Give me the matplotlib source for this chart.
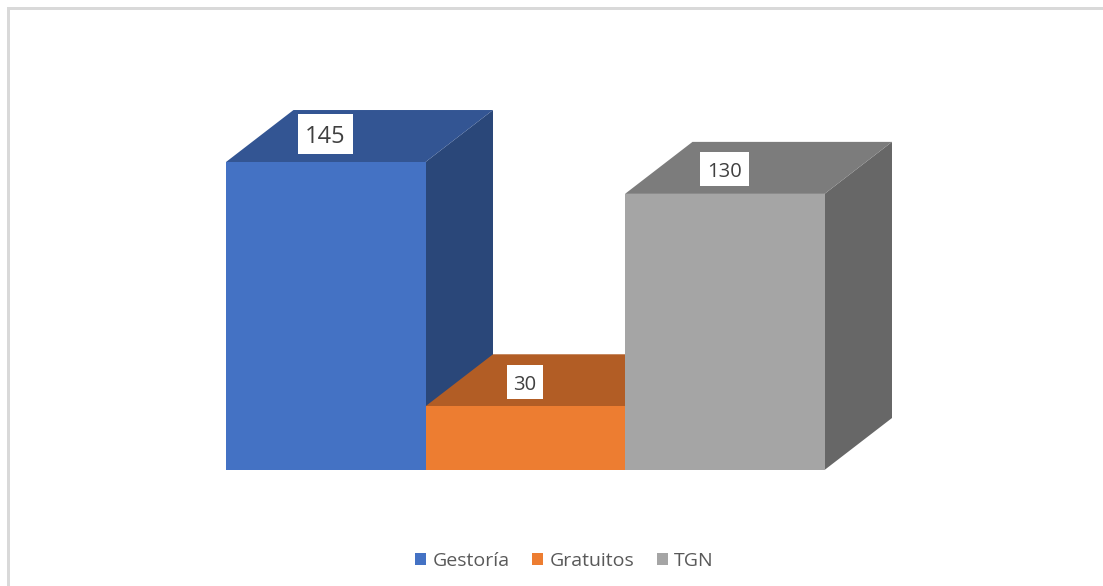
import matplotlib
matplotlib.use("Agg")
import matplotlib.pyplot as plt
from matplotlib.patches import Polygon, Patch, Rectangle

categories = ["Gestoría", "Gratuitos", "TGN"]
values = [145, 30, 130]
front_colors = ["#4472C4", "#ED7D31", "#A5A5A5"]
top_colors = ["#335593", "#B25D25", "#7C7C7C"]
side_colors = ["#2A4779", "#8F4A1E", "#676767"]
label_sizes = [17.0, 14.5, 14.5]
label_lift = [13.0, 11.4, 11.7]
box_half_w = [27.5, 18.0, 24.5]
box_half_h = [20.0, 17.0, 17.0]

W, H = 1103, 586
PX_X, X0 = 199.5, 226.0
PX_Y, Y0 = 2.124, 470.0
DX, DY = 67.5 / PX_X, 52 / PX_Y

plt.rcParams["font.family"] = ["Open Sans", "DejaVu Sans"]
fig = plt.figure(figsize=(W / 100, H / 100), dpi=100, facecolor="white")
ax = fig.add_axes([0, 0, 1, 1])
ax.set_xlim(-X0 / PX_X, (W - X0) / PX_X)
ax.set_ylim((Y0 - H) / PX_Y, Y0 / PX_Y)
ax.axis("off")

# Chart frame (top and left edges)
fig.add_artist(Rectangle((0.0065, 1 - 9.5 / H), 1, 2.5 / H, transform=fig.transFigure, color="#D9D9D9", lw=0))
fig.add_artist(Rectangle((7 / W, 0), 2.5 / W, 1 - 7 / H, transform=fig.transFigure, color="#D9D9D9", lw=0))

for i, v in enumerate(values):
    ax.add_patch(Polygon([(i + 1, 0), (i + 1 + DX, DY), (i + 1 + DX, v + DY), (i + 1, v)],
                         closed=True, facecolor=side_colors[i], edgecolor="none", zorder=2 + i))
    ax.add_patch(Polygon([(i, v), (i + DX, v + DY), (i + 1 + DX, v + DY), (i + 1, v)],
                         closed=True, facecolor=top_colors[i], edgecolor="none", zorder=2 + i))
    ax.add_patch(Rectangle((i, 0), 1, v, facecolor=front_colors[i], edgecolor="none", zorder=2 + i))

for i, v in enumerate(values):
    cx, cy = i + 0.498, v + label_lift[i]
    hw, hh = box_half_w[i] / PX_X, box_half_h[i] / PX_Y
    ax.add_patch(Rectangle((cx - hw, cy - hh), 2 * hw, 2 * hh, facecolor="white", edgecolor="none", zorder=9))
    ax.text(cx, cy, str(v), ha="center", va="center_baseline", fontsize=label_sizes[i],
            color="#404040", zorder=10)

handles = [Patch(facecolor=c, edgecolor="none", label=n) for c, n in zip(front_colors, categories)]
ax.legend(handles=handles, loc="center", bbox_to_anchor=(564.5 / W, 1 - 560.5 / H),
          bbox_transform=fig.transFigure, ncol=3, frameon=False, fontsize=14,
          labelcolor="#595959", handlelength=0.56, handleheight=0.56, handletextpad=0.34,
          columnspacing=1.15, borderpad=0, borderaxespad=0)

fig.savefig("out.png", dpi=100, facecolor="white")
